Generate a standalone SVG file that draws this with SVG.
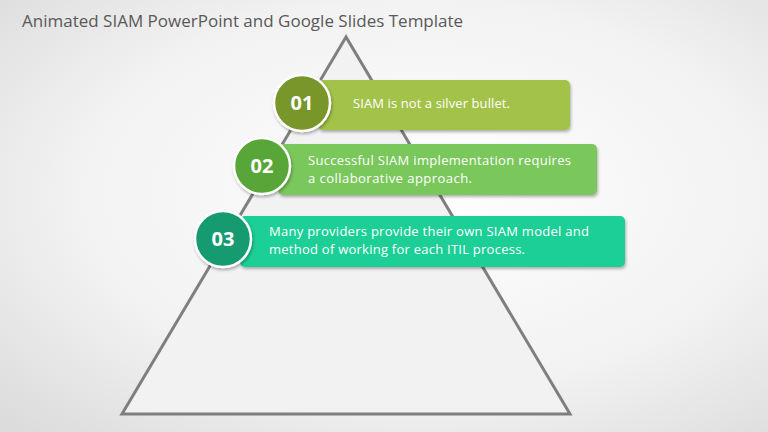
<svg xmlns="http://www.w3.org/2000/svg" width="768" height="432" viewBox="0 0 768 432">
<defs>
<radialGradient id="bg" cx="0.55" cy="0.45" r="0.75">
<stop offset="0" stop-color="#ffffff"/>
<stop offset="0.6" stop-color="#f2f2f2"/>
<stop offset="1" stop-color="#dcdcdc"/>
</radialGradient>
<filter id="sh" x="-10%" y="-20%" width="120%" height="150%">
<feDropShadow dx="1" dy="2" stdDeviation="1.5" flood-color="#000" flood-opacity="0.3"/>
</filter>
</defs>
<style>
.title{font-family:"Open Sans","Liberation Sans",sans-serif;font-size:17px;fill:#595959}
.txt{font-family:"Open Sans","Liberation Sans",sans-serif;font-size:13px;fill:#ffffff}
.num{font-family:"Open Sans","Liberation Sans",sans-serif;font-size:20px;font-weight:bold;fill:#ffffff;text-anchor:middle}
.ring{stroke:#ffffff;stroke-width:2.5}
</style>
<rect width="768" height="432" fill="url(#bg)"/>
<text class="title" x="22" y="27">Animated SIAM PowerPoint and Google Slides Template</text>
<g id="pyramid">
<polygon points="346,37 122,414 570,414" fill="#f2f2f2" stroke="#7f7f7f" stroke-width="3" stroke-linejoin="miter"/>
</g>
<g id="item1">
<rect x="318" y="80" width="252" height="50" rx="5" fill="#a3c24a" filter="url(#sh)"/>
<circle class="ring" cx="302" cy="103" r="28" fill="#78962c" filter="url(#sh)"/>
<text class="num" x="302" y="110">01</text>
<text class="txt" x="353" y="108" textLength="157">SIAM is not a silver bullet.</text>
</g>
<g id="item2">
<rect x="278" y="144" width="319" height="51" rx="5" fill="#7ac75c" filter="url(#sh)"/>
<circle class="ring" cx="262" cy="166" r="28" fill="#58a639" filter="url(#sh)"/>
<text class="num" x="262" y="173">02</text>
<text class="txt" x="308" y="165" textLength="263">Successful SIAM implementation requires</text>
<text class="txt" x="308" y="183" textLength="164">a collaborative approach.</text>
</g>
<g id="item3">
<rect x="240" y="216" width="385" height="51" rx="5" fill="#1ccf96" filter="url(#sh)"/>
<circle class="ring" cx="223" cy="239" r="28" fill="#179a70" filter="url(#sh)"/>
<text class="num" x="223" y="246">03</text>
<text class="txt" x="269" y="236" textLength="320">Many providers provide their own SIAM model and</text>
<text class="txt" x="269" y="254" textLength="256">method of working for each ITIL process.</text>
</g>
</svg>
